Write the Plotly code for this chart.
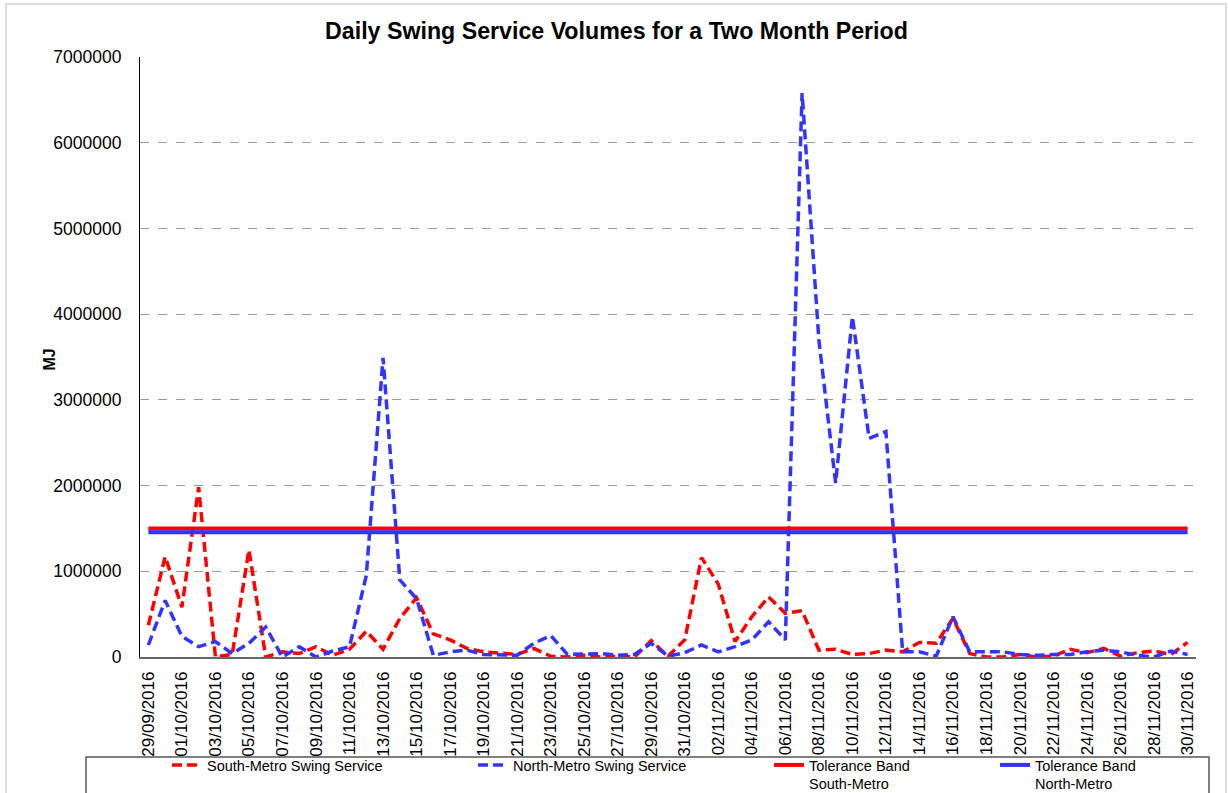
import plotly.graph_objects as go
import pandas as pd

# ---- data ----
dates = [d.strftime("%d/%m/%Y") for d in pd.date_range("2016-09-29", "2016-11-30", freq="D")]

south_metro = [370000, 1170000, 580000, 1980000, 0, 30000, 1250000, 0, 60000, 40000,
               120000, 20000, 90000, 300000, 90000, 450000, 690000, 270000, 200000, 100000,
               60000, 40000, 30000, 100000, 10000, 0, 20000, 0, 10000, 0,
               190000, 10000, 200000, 1160000, 850000, 180000, 470000, 700000, 510000, 540000,
               80000, 90000, 30000, 40000, 80000, 60000, 170000, 160000, 450000, 40000,
               0, 0, 30000, 0, 10000, 90000, 50000, 100000, 10000, 50000,
               70000, 30000, 170000]

north_metro = [140000, 660000, 240000, 120000, 180000, 40000, 160000, 350000, 0, 120000,
               0, 70000, 120000, 950000, 3490000, 900000, 680000, 20000, 60000, 80000,
               30000, 20000, 20000, 160000, 250000, 30000, 30000, 40000, 20000, 30000,
               160000, 10000, 50000, 140000, 60000, 120000, 200000, 410000, 200000, 6580000,
               3700000, 2030000, 3970000, 2550000, 2630000, 60000, 60000, 10000, 470000, 60000,
               60000, 60000, 30000, 20000, 30000, 30000, 60000, 80000, 60000, 20000,
               0, 70000, 30000]

tolerance_south = 1500000
tolerance_north = 1455000

tick_labels = dates[::2]

series_names = ["South-Metro Swing Service", "North-Metro Swing Service",
                "Tolerance Band<br>South-Metro", "Tolerance Band<br>North-Metro"]

RED = "rgb(255,0,0)"
BLUE = "rgb(51,51,255)"
FONT = "Liberation Sans, Arial, sans-serif"

fig = go.Figure()
x = list(range(len(dates)))

fig.add_trace(go.Scatter(x=x, y=south_metro, mode="lines", name=series_names[0],
                         line=dict(color=RED, width=3.5, dash="10px,5px"), legend="legend"))
fig.add_trace(go.Scatter(x=x, y=north_metro, mode="lines", name=series_names[1],
                         line=dict(color=BLUE, width=3.5, dash="10px,5px"), legend="legend2"))
fig.add_trace(go.Scatter(x=x, y=[tolerance_south] * len(x), mode="lines", name=series_names[2],
                         line=dict(color=RED, width=4), legend="legend3"))
fig.add_trace(go.Scatter(x=x, y=[tolerance_north] * len(x), mode="lines", name=series_names[3],
                         line=dict(color=BLUE, width=4), legend="legend4"))

L, R, T, B = 140, 32, 57, 136
W, H = 1228, 793
pw = W - L - R
ph = H - T - B

def px_x(p):
    return (p - L) / pw

def px_y(p):
    return (H - B - p) / ph

legend_font = dict(family=FONT, size=14.5, color="#000")
legend_common = dict(orientation="v", bgcolor="rgba(0,0,0,0)", borderwidth=0,
                     font=legend_font, xanchor="left", yanchor="top", valign="top",
                     itemwidth=30, tracegroupgap=0)

lg_y = px_y(749)
fig.update_layout(
    legend=dict(x=px_x(167), y=lg_y, **legend_common),
    legend2=dict(x=px_x(473), y=lg_y, **legend_common),
    legend3=dict(x=px_x(769), y=lg_y, **legend_common),
    legend4=dict(x=px_x(995), y=lg_y, **legend_common),
)

fig.update_layout(
    width=W, height=H,
    margin=dict(l=L, r=R, t=T, b=B, autoexpand=False),
    paper_bgcolor="white", plot_bgcolor="white",
    font=dict(family=FONT, color="#000"),
    title=dict(text="<b>Daily Swing Service Volumes for a Two Month Period</b>",
               x=(325 + 908) / 2 / W, xanchor="center", y=1 - 31 / H, yanchor="middle",
               yref="container", xref="container",
               font=dict(size=23.2, family=FONT, color="#000")),
    xaxis=dict(range=[-0.5, len(x) - 0.5], tickmode="array",
               tickvals=x[::2], ticktext=tick_labels, tickangle=-90,
               tickfont=dict(size=17), showgrid=False, zeroline=False,
               showline=True, linecolor="#666", linewidth=1.5, ticks="",
               ticklabelstandoff=6, automargin=False),
    yaxis=dict(range=[0, 7000000], dtick=1000000, tick0=0, tickformat="d",
               tickfont=dict(size=17.5), showgrid=True, gridcolor="#999",
               griddash="dash", gridwidth=1, zeroline=False,
               showline=True, linecolor="#000", linewidth=1, ticks="",
               ticklabelstandoff=14, automargin=False),
    showlegend=True,
)

fig.add_annotation(text="<b>MJ</b>", textangle=-90, xref="paper", yref="paper",
                   x=px_x(38), y=px_y(360), showarrow=False,
                   font=dict(size=16, family=FONT, color="#000"))

# legend box
fig.add_shape(type="rect", xref="paper", yref="paper",
              x0=px_x(86), x1=px_x(1209), y0=px_y(757), y1=px_y(820),
              line=dict(color="#555", width=1.5), fillcolor="rgba(0,0,0,0)", layer="below")
# outer chart border
fig.add_shape(type="rect", xref="paper", yref="paper",
              x0=px_x(6), x1=px_x(1226), y0=px_y(4), y1=px_y(830),
              line=dict(color="#dcdcdc", width=2), fillcolor="rgba(0,0,0,0)", layer="below")

fig.write_html("out.html", config={"displayModeBar": False},
               post_script="document.body.style.margin='0';document.body.style.overflow='hidden';")
